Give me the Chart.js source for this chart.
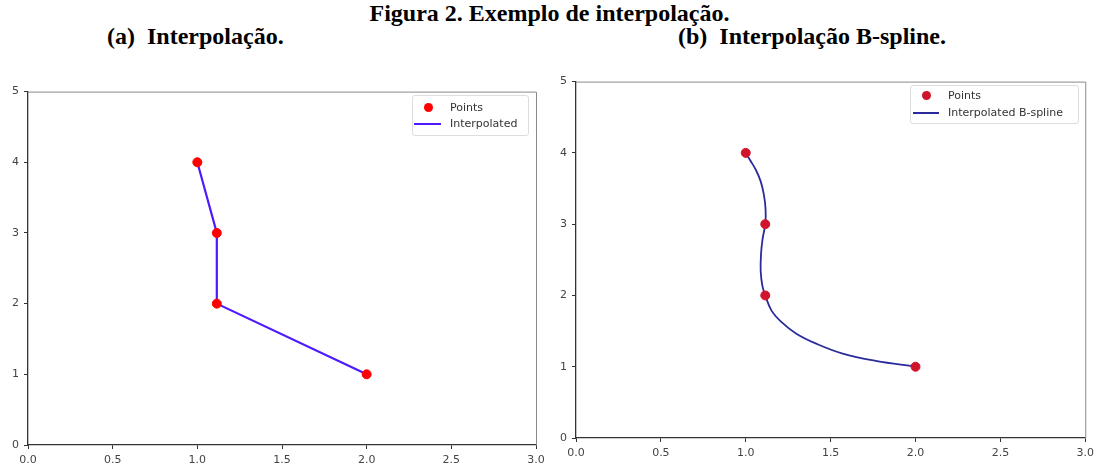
<!DOCTYPE html>
<html>
<head>
<meta charset="utf-8">
<script src="https://cdn.jsdelivr.net/npm/chart.js@4"></script>
<style>
  html, body { margin:0; padding:0; background:#fff; width:1099px; height:464px; overflow:hidden; position:relative; }
  .t { position:absolute; font-family:"Liberation Serif","Times New Roman",serif; font-weight:bold; color:#000; white-space:nowrap; line-height:1; }
  .cv { position:absolute; }
  .leg { position:absolute; border:1px solid #ddd; border-radius:3px; background:rgba(255,255,255,0.85); font-family:"DejaVu Sans",sans-serif; font-size:11px; color:#333; }
  .leg .row { position:absolute; white-space:nowrap; line-height:1; }
  .leg .dot { position:absolute; width:9px; height:9px; border-radius:50%; }
  .leg .ln { position:absolute; height:2px; }
</style>
</head>
<body>
<div class="t" style="left:0;width:1099px;text-align:center;top:1px;font-size:24px;">Figura 2. Exemplo de interpolação.</div>
<div class="t" style="left:107px;top:24px;font-size:24px;">(a)&nbsp;&nbsp;Interpolação.</div>
<div class="t" style="left:678px;top:24px;font-size:24px;">(b)&nbsp;&nbsp;Interpolação B-spline.</div>

<canvas id="c1" class="cv" style="left:0px;top:80px;" width="550" height="384"></canvas>
<canvas id="c2" class="cv" style="left:548px;top:70px;" width="551" height="394"></canvas>

<div class="leg" style="left:412px;top:95px;width:115px;height:39px;">
  <div class="dot" style="left:11px;top:7px;background:#ff0000;"></div>
  <div class="row" style="left:37px;top:6px;">Points</div>
  <div class="ln" style="left:1px;top:27px;width:27px;background:#4d1aff;"></div>
  <div class="row" style="left:37px;top:22px;">Interpolated</div>
</div>
<div class="leg" style="left:910px;top:85px;width:167px;height:37px;">
  <div class="dot" style="left:11px;top:5px;background:#d0142c;"></div>
  <div class="row" style="left:37px;top:4px;">Points</div>
  <div class="ln" style="left:2px;top:26px;width:26px;background:#2b2b9c;"></div>
  <div class="row" style="left:37px;top:21px;">Interpolated B-spline</div>
</div>

<script>
// ---- data ----
const pointsX = [1.0, 1.115, 1.115, 2.0];
const pointsY = [4, 3, 2, 1];

const splineX = [1.0, 1.025, 1.060, 1.088, 1.107, 1.117, 1.115, 1.099, 1.090, 1.088, 1.098, 1.115, 1.152, 1.211, 1.298, 1.415, 1.571, 1.766, 2.0];
const splineY = [4.0, 3.90, 3.76, 3.60, 3.41, 3.20, 3.0, 2.79, 2.58, 2.34, 2.135, 2.0, 1.787, 1.625, 1.463, 1.323, 1.184, 1.082, 1.0];

const xTickLabels = ['0.0', '0.5', '1.0', '1.5', '2.0', '2.5', '3.0'];
const yTickLabels = ['0', '1', '2', '3', '4', '5'];

function xy(xs, ys) { return xs.map((x, i) => ({x: x, y: ys[i]})); }

const framePlugin = {
  id: 'frame',
  afterDraw(chart) {
    const a = chart.chartArea, ctx = chart.ctx;
    ctx.save();
    ctx.lineWidth = 1;
    ctx.strokeStyle = '#8a8a8a';
    ctx.beginPath();
    ctx.moveTo(a.left, a.top + 0.5);
    ctx.lineTo(a.right + 0.5, a.top + 0.5);
    ctx.lineTo(a.right + 0.5, a.bottom);
    ctx.stroke();
    ctx.restore();
  }
};

function makeChart(id, datasets, pad, yW, xH) {
  const tickFont = {family: 'DejaVu Sans', size: 11};
  return new Chart(document.getElementById(id), {
    type: 'scatter',
    data: {datasets: datasets},
    options: {
      responsive: false,
      animation: false,
      events: [],
      layout: {padding: pad},
      plugins: {legend: {display: false}, tooltip: {enabled: false}},
      scales: {
        x: {
          type: 'linear', min: 0, max: 3,
          afterFit: s => { s.height = xH; },
          afterBuildTicks: s => { s.ticks = xTickLabels.map(v => ({value: parseFloat(v)})); },
          ticks: {font: tickFont, color: '#444', padding: 5, maxRotation: 0, autoSkip: false,
                  callback: (v, i) => xTickLabels[i]},
          grid: {drawOnChartArea: false, drawTicks: true, tickLength: 4, color: '#333'},
          border: {display: true, color: '#333', width: 1.3}
        },
        y: {
          type: 'linear', min: 0, max: 5,
          afterFit: s => { s.width = yW; },
          afterBuildTicks: s => { s.ticks = yTickLabels.map(v => ({value: parseFloat(v)})); },
          ticks: {font: tickFont, color: '#444', padding: 5, autoSkip: false,
                  callback: (v, i) => yTickLabels[i]},
          grid: {drawOnChartArea: false, drawTicks: true, tickLength: 4, color: '#333'},
          border: {display: true, color: '#333', width: 1.3}
        }
      }
    },
    plugins: [framePlugin]
  });
}

makeChart('c1', [
  {label: 'Points', data: xy(pointsX, pointsY), backgroundColor: '#ff0000', borderColor: '#ff0000',
   pointRadius: 4.5, showLine: false},
  {label: 'Interpolated', data: xy(pointsX, pointsY), borderColor: '#4d1aff', borderWidth: 2.2,
   pointRadius: 0, showLine: true, tension: 0}
], {top: 10, right: 14, left: 0, bottom: 0}, 28, 19);

makeChart('c2', [
  {label: 'Points', data: xy(pointsX, pointsY), backgroundColor: '#d0142c', borderColor: '#d0142c',
   pointRadius: 4.5, showLine: false},
  {label: 'Interpolated B-spline', data: xy(splineX, splineY), borderColor: '#2b2b9c', borderWidth: 1.8,
   pointRadius: 0, showLine: true, tension: 0.4}
], {top: 9, right: 10, left: 0, bottom: 0}, 28, 26);
</script>
</body>
</html>
